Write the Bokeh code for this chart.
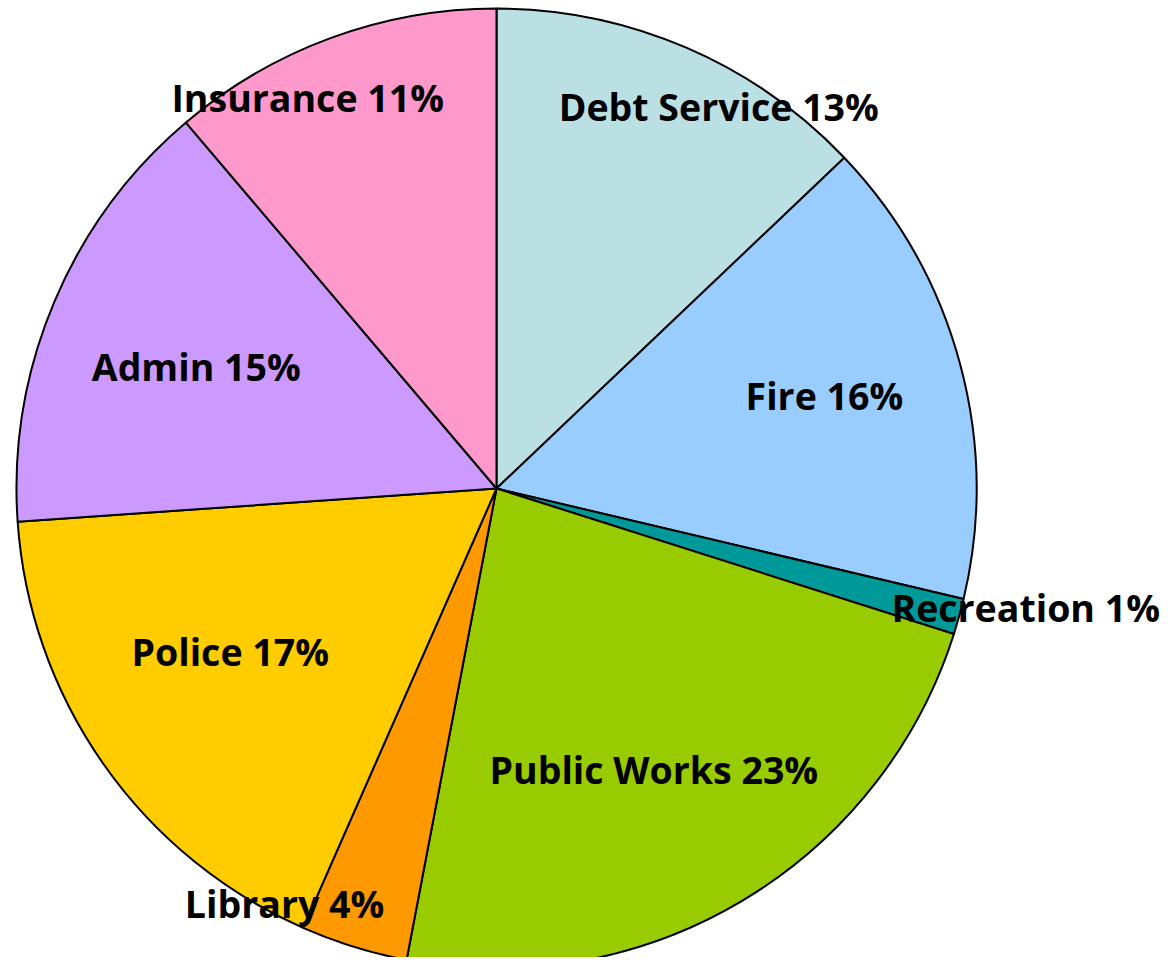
import math
from bokeh.plotting import figure
from bokeh.models import Range1d, ColumnDataSource
from bokeh.core.properties import value
from bokeh.embed import file_html
from bokeh.resources import INLINE

# Data (clockwise from 12 o'clock), percent of budget
categories = ["Debt Service", "Fire", "Recreation", "Public Works", "Library", "Police", "Admin", "Insurance"]
shares = [12.9, 15.8, 1.2, 23.1, 3.6, 17.3, 14.9, 11.2]
colors = ["#BBE0E3", "#99CCFF", "#009999", "#99CC00", "#FF9900", "#FFCC00", "#CC99FF", "#FF99CC"]

# Label placement style (fraction of radius, angle nudge in degrees clockwise)
label_rfrac = [0.92, 0.71, 1.13, 0.67, 0.97, 0.65, 0.675, 0.905]
label_nudge = [7.0, -0.7, -2.8, 1.5, 9.8, 3.7, -0.8, -5.6]

W, H = 1168, 957
CX, CY, R = 496, -488, 480

total = sum(shares)
starts, ends, lx, ly, labels = [], [], [], [], []
cum = 0.0
for i, s in enumerate(shares):
    a0 = cum / total * 2 * math.pi
    cum += s
    a1 = cum / total * 2 * math.pi
    starts.append(math.pi / 2 - a0)
    ends.append(math.pi / 2 - a1)
    mid = (a0 + a1) / 2 + math.radians(label_nudge[i])
    r = R * label_rfrac[i]
    lx.append(CX + r * math.sin(mid))
    ly.append(CY + r * math.cos(mid))
    labels.append(f"{categories[i]} {round(s / total * 100)}%")

src = ColumnDataSource(dict(start=starts, end=ends, color=colors, cat=categories))
lsrc = ColumnDataSource(dict(x=lx, y=ly, text=labels))

p = figure(width=W, height=H, x_range=Range1d(0, W), y_range=Range1d(-H, 0),
           output_backend="svg", toolbar_location=None, min_border=0)
p.axis.visible = False
p.grid.visible = False
p.outline_line_color = None
p.background_fill_color = "white"

p.wedge(x=CX, y=CY, radius=R, start_angle="start", end_angle="end", direction="clock",
        fill_color="color", line_color="black", line_width=2, source=src)

p.text(x="x", y="y", text="text", source=lsrc, text_align="center", text_baseline="middle",
       text_font=value("Open Sans"), text_font_style="bold", text_font_size="37.5px", text_color="black")

open("out.html", "w").write(file_html(p, INLINE))
